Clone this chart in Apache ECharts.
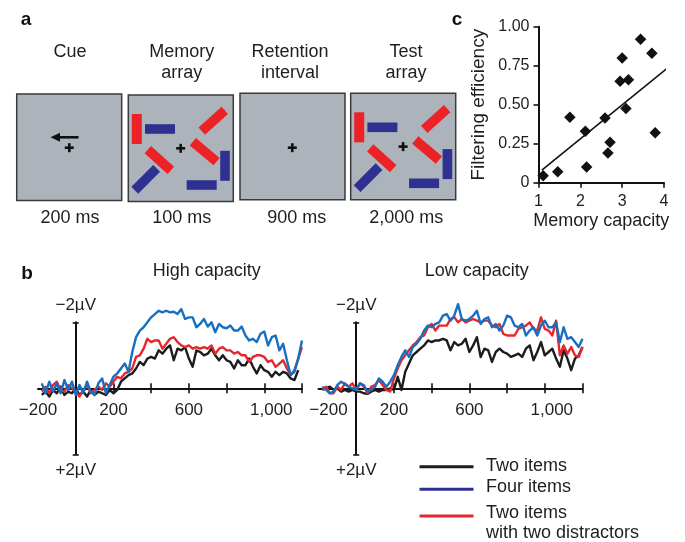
<!DOCTYPE html>
<html><head><meta charset="utf-8">
<script src="https://cdn.jsdelivr.net/npm/echarts@6/dist/echarts.min.js"></script>
<style>html,body{margin:0;padding:0;background:#fff}#c{width:685px;height:542px}</style>
</head><body><div id="c"></div>
<script>
// ---------- data ----------
const times = [-180,-160,-140,-120,-100,-80,-60,-40,-20,0,20,40,60,80,100,120,140,160,180,200,220,240,260,280,300,320,340,360,380,400,420,440,460,480,500,520,540,560,580,600,620,640,660,680,700,720,740,760,780,800,820,840,860,880,900,920,940,960,980,1000,1020,1040,1060,1080,1100,1120,1140,1160,1180,1200];

const highTwo = [0.2,0.1,0.25,0.05,0.15,-0.05,0.2,0.1,0.15,0.0, 0.2,0.1,0.25,0.05,0.2,0.1,0.15,0.2,0.05,0.15, 0.05,-0.2,-0.3,-0.4,-0.45,-0.6,-0.8,-0.7,-0.9,-0.95, -0.9,-1.15,-1.05,-1.2,-1.3,-0.85,-1.2,-1.15,-1.25,-0.9, -0.65,-1.15,-1.1,-1.0,-1.05,-1.2,-1.0,-0.85,-1.0,-0.85, -0.8,-0.6,-0.85,-0.7,-0.7,-0.9,-0.65,-0.45,-0.7,-0.55, -0.5,-0.35,-0.5,-0.4,-0.5,-0.45,-0.3,-0.25,-0.55];
const highFour = [-0.15,0.15,-0.2,0.1,-0.15,0.15,-0.25,0.05,-0.2,0.2, -0.1,0.15,-0.2,0.1,0.2,-0.15,-0.3,0.15,-0.1,-0.35, -0.45,-0.6,-0.75,-0.5,-1.1,-1.55,-1.75,-1.85,-2.0,-2.15, -2.25,-2.35,-2.3,-2.35,-2.3,-2.32,-2.25,-2.4,-2.1,-2.15, -2.15,-1.85,-1.95,-2.1,-1.87,-2.0,-1.7,-1.95,-1.85,-1.82, -1.9,-1.75,-1.75,-1.87,-1.6,-1.45,-1.5,-1.4,-1.65,-1.72, -1.3,-1.55,-1.6,-1.15,-1.35,-0.85,-0.4,-0.5,-0.9,-1.45];
const highDistr = [0.1,-0.05,0.15,-0.1,-0.2,0.05,0.1,-0.1,0.0,0.1, 0.25,0.05,-0.1,0.15,0.05,-0.05,0.05,-0.15,-0.05,-0.2, -0.35,-0.3,-0.45,-0.5,-0.6,-0.95,-1.0,-1.2,-1.5,-1.4, -1.45,-1.45,-1.2,-1.35,-1.5,-1.55,-1.4,-1.3,-1.25,-1.3, -1.2,-1.25,-1.2,-1.25,-1.2,-1.3,-1.05,-1.2,-1.25,-1.15, -1.15,-1.05,-1.1,-1.0,-1.0,-0.8,-0.95,-1.0,-1.0,-0.95, -0.8,-0.85,-0.65,-0.75,-0.85,-0.6,-0.4,-0.55,-0.9,-1.25];

const lowTwo = [0.05,0.0,-0.05,0.05,0.0,0.1,0.05,0.1,0.05,0.1, 0.1,0.15,0.17,0.1,0.05,0.1,0.05,0.05,0.0,0.05, -0.35,0.05,-0.5,-0.75,-1.0,-1.1,-1.2,-1.3,-1.45,-1.4, -1.45,-1.45,-1.5,-1.45,-1.15,-1.4,-1.3,-1.35,-1.5,-1.1, -1.3,-1.55,-0.95,-1.2,-1.15,-0.8,-1.1,-1.2,-1.1,-1.05, -0.95,-1.0,-1.05,-0.95,-1.2,-1.3,-0.85,-1.1,-1.4,-1.0, -1.1,-1.2,-0.9,-0.65,-1.15,-0.9,-0.55,-0.9,-1.0,-1.25];
const lowFour = [-0.05,0.05,0.15,0.1,-0.1,-0.2,-0.12,-0.05,0.0,0.05, -0.15,-0.1,0.1,0.05,-0.05,-0.3,-0.2,-0.05,-0.2,-0.4, -0.7,-0.95,-1.15,-0.95,-1.25,-1.35,-1.5,-1.75,-1.9,-1.85, -1.95,-2.0,-2.2,-2.25,-2.05,-2.2,-2.55,-2.1,-2.05,-2.1, -2.2,-2.35,-1.95,-2.1,-2.15,-1.85,-1.95,-1.75,-1.9,-2.2, -2.15,-1.9,-1.85,-1.95,-1.6,-1.75,-1.85,-1.6,-1.9,-2.05, -1.85,-1.85,-2.0,-1.4,-1.85,-1.5,-1.55,-1.4,-1.25,-1.5];
const lowDistr = [0.05,-0.05,0.15,0.15,-0.05,0.05,-0.15,-0.05,-0.15,0.05, -0.15,-0.05,0.15,-0.05,-0.1,-0.25,-0.1,0.05,0.1,-0.3, -0.6,-0.85,-1.0,-1.15,-1.3,-1.4,-1.55,-1.6,-1.85,-1.95, -1.75,-1.9,-1.9,-1.9,-2.1,-2.15,-2.0,-2.1,-2.0,-2.05, -2.1,-2.05,-2.0,-2.05,-2.05,-1.9,-1.85,-1.95,-1.65,-1.6, -1.6,-1.6,-1.8,-1.85,-1.9,-2.0,-1.8,-1.75,-2.15,-1.8, -1.75,-1.6,-2.05,-1.0,-1.3,-1.05,-1.25,-1.0,-0.95,-1.25];

const erpTickLabels = [-200, 200, 600, 1000];
const erpTicks = [200, 400, 600, 800, 1000, 1200];

const capacity   = [1.11,1.46,1.75,2.12,2.15,2.59,2.71,2.66,2.95,3.0,3.15,3.09,3.44,3.71,3.79];
const efficiency = [0.045,0.07,0.42,0.33,0.10,0.415,0.26,0.19,0.65,0.80,0.66,0.475,0.92,0.83,0.32];
const fitLine = [[1.08, 0.08], [4.43, 0.81]];

const stageTop    = ['Cue', 'Memory', 'Retention', 'Test'];
const stageBottom = ['', 'array', 'interval', 'array'];
const durations   = ['200 ms', '100 ms', '900 ms', '2,000 ms'];
const legendNames = ['Two items', 'Four items', 'Two items\nwith two distractors'];

// ---------- style ----------
const FONT = '"Liberation Sans", Arial, Helvetica, sans-serif';
const TXT = '#1e1e1e';
const C_BLACK = '#1c1c1c', C_BLUE = '#176fc1', C_RED = '#e4282e';
const C_BLUE_LEG = '#2e3192';
const BAR_RED = '#ec2227', BAR_BLUE = '#2e3192';
const BOX_FILL = '#adb3ba', BOX_STROKE = '#3a3a3a';
const AX = '#111';

function zip(xs, ys) { return ys.map((v, i) => [xs[i], v]); }

// ---------- panel a graphics ----------
const g = [];
function text(t, x, y, size, opts) {
  g.push({ type: 'text', x: x, y: y, silent: true,
    style: Object.assign({ text: t, font: size + 'px ' + FONT, fill: TXT, textAlign: 'center', textVerticalAlign: 'middle' }, opts || {}) });
}
const boxes = [[16.7, 94], [128.3, 95], [240, 93.3], [350.7, 93.3]];
const boxW = 105, boxH = 106.5;
const stageX = [70, 181.7, 290, 406];
const durX = [70, 181.7, 296.7, 406.3];
boxes.forEach((b, i) => {
  g.push({ type: 'rect', shape: { x: b[0], y: b[1], width: boxW, height: boxH },
    style: { fill: BOX_FILL, stroke: BOX_STROKE, lineWidth: 1.5 } });
  text(stageTop[i], stageX[i], 52, 18);
  if (stageBottom[i]) text(stageBottom[i], stageX[i], 73, 18);
  text(durations[i], durX[i], 218.5, 18);
});
function plus(cx, cy) {
  g.push({ type: 'line', shape: { x1: cx - 4.5, y1: cy, x2: cx + 4.5, y2: cy }, style: { stroke: '#111', lineWidth: 2.6 } });
  g.push({ type: 'line', shape: { x1: cx, y1: cy - 4.5, x2: cx, y2: cy + 4.5 }, style: { stroke: '#111', lineWidth: 2.6 } });
}
plus(69.3, 147.7);
g.push({ type: 'line', shape: { x1: 57, y1: 137.3, x2: 78.5, y2: 137.3 }, style: { stroke: '#111', lineWidth: 2.6 } });
g.push({ type: 'polygon', shape: { points: [[50.5, 137.3], [60, 132.8], [60, 141.8]] }, style: { fill: '#111' } });
plus(292.3, 147.7);
const arrayItems = [
  [8.5, 34, 10, 30, 0, BAR_RED],
  [31.7, 34, 30, 9.6, 0, BAR_BLUE],
  [85, 25.7, 31, 9.6, 42, BAR_RED],
  [76.4, 56.7, 31, 9.6, -40, BAR_RED],
  [31, 65, 31, 9.6, -42, BAR_RED],
  [17.4, 84.3, 31, 9.6, 45, BAR_BLUE],
  [96.7, 70.8, 9.6, 30, 0, BAR_BLUE],
  [73.4, 90, 30, 9.6, 0, BAR_BLUE]
];
[1, 3].forEach(bi => {
  const o = boxes[bi];
  arrayItems.forEach(it => {
    g.push({ type: 'rect', x: o[0] + it[0], y: o[1] + it[1], rotation: it[4] * Math.PI / 180,
      shape: { x: -it[2] / 2, y: -it[3] / 2, width: it[2], height: it[3] }, style: { fill: it[5] } });
  });
  plus(o[0] + 52.4, o[1] + 53.3);
});
text('a', 26, 19.5, 19, { font: 'bold 19px ' + FONT, fill: '#111' });
text('c', 457, 19.5, 19, { font: 'bold 19px ' + FONT, fill: '#111' });
text('b', 27, 273.5, 19, { font: 'bold 19px ' + FONT, fill: '#111' });
text('High capacity', 206.7, 271, 18);
text('Low capacity', 476.7, 271, 18);
const legColors = [C_BLACK, C_BLUE_LEG, C_RED];
const legY = [466.7, 489.3, 516];
const legTextY = [466.4, 487.2, 512.7];
legendNames.forEach((n, i) => {
  g.push({ type: 'line', shape: { x1: 419.5, y1: legY[i], x2: 473.5, y2: legY[i] }, style: { stroke: legColors[i], lineWidth: 3 } });
  n.split('\n').forEach((p, j) => text(p, 486, legTextY[i] + j * 20.5, 18, { textAlign: 'left' }));
});

// ---------- axes ----------
// upper grid: y from -2 (top) to 0 (x axis); lower grid: y from 0 to +2
function erpX(grid, shift) {
  return { type: 'value', gridIndex: grid, position: 'bottom', min: -200, max: 1200, interval: 200,
    axisLine: { onZero: false, lineStyle: { color: AX, width: 2 } },
    axisTick: { show: true, customValues: erpTicks, length: 5, lineStyle: { color: AX, width: 1.6 } },
    axisLabel: { customValues: erpTickLabels, margin: 14, fontSize: 17, fontFamily: FONT, color: TXT,
      formatter: v => v < 0 ? '{m|\u2212' + Math.abs(v) + '}' : (v >= 1000 ? '{k|1,000}' : String(v)),
      rich: { m: { fontSize: 17, fontFamily: FONT, color: TXT, padding: [0, 0, 0, shift] },
              k: { fontSize: 17, fontFamily: FONT, color: TXT, padding: [0, 0, 0, 14] } } },
    splitLine: { show: false } };
}
function erpXInner(grid) {
  return { type: 'value', gridIndex: grid, position: 'bottom', min: -200, max: 1200, interval: 200,
    axisLine: { show: false, onZero: false },
    axisTick: { show: true, inside: true, customValues: erpTicks, length: 5, lineStyle: { color: AX, width: 1.6 } },
    axisLabel: { show: false }, splitLine: { show: false } };
}
function erpXHidden(grid) {
  return { type: 'value', gridIndex: grid, show: false, min: -200, max: 1200, interval: 200 };
}
function erpY(grid, xIdx, lo, hi, tickV, inner, name, loc) {
  const a = { type: 'value', gridIndex: grid, position: 'left', inverse: true, min: lo, max: hi, interval: 2,
    axisLine: { show: !inner, onZero: true, onZeroAxisIndex: xIdx, lineStyle: { color: AX, width: 2 } },
    axisTick: { show: true, inside: inner, customValues: [tickV], length: 3, lineStyle: { color: AX, width: 1.6 } },
    axisLabel: { show: false }, splitLine: { show: false } };
  if (name) {
    a.name = name; a.nameLocation = loc; a.nameGap = 8;
    a.nameTextStyle = { fontSize: 17, fontFamily: FONT, color: TXT };
  }
  return a;
}
function erpLine(name, xs, ys, color, xi, yi) {
  return { type: 'line', name: name, xAxisIndex: xi, yAxisIndex: yi, data: zip(xs, ys), symbol: 'none',
    showSymbol: false, clip: false, lineStyle: { color: color, width: 2.4, join: 'round' }, z: 3 };
}

const option = {
  animation: false,
  backgroundColor: '#fff',
  textStyle: { fontFamily: FONT },
  grid: [
    { left: 38, top: 322.3, width: 264, height: 66 },      // 0 high upper
    { left: 38, top: 388.3, width: 264, height: 66 },      // 1 high lower
    { left: 318.5, top: 322.3, width: 264, height: 66 },   // 2 low upper
    { left: 318.5, top: 388.3, width: 264, height: 66 },   // 3 low lower
    { left: 538.5, top: 26.7, width: 125.5, height: 156 }  // 4 scatter
  ],
  xAxis: [
    erpX(0, 0), erpXInner(0), erpXHidden(1),
    erpX(2, 20), erpXInner(2), erpXHidden(3),
    { type: 'value', gridIndex: 4, min: 1, max: 4, interval: 1,
      axisLine: { onZero: false, lineStyle: { color: AX, width: 2 } },
      axisTick: { length: 5, lineStyle: { color: AX, width: 1.6 } },
      axisLabel: { margin: 10.5, fontSize: 16, fontFamily: FONT, color: TXT },
      splitLine: { show: false },
      name: 'Memory capacity', nameLocation: 'middle', nameGap: 29,
      nameTextStyle: { fontSize: 18, fontFamily: FONT, color: TXT } }
  ],
  yAxis: [
    erpY(0, 0, -2, 0, -2, false, '\u22122\u00b5V', 'start'),
    erpY(0, 0, -2, 0, -2, true),
    erpY(1, 2, 0, 2, 2, false, '+2\u00b5V', 'end'),
    erpY(1, 2, 0, 2, 2, true),
    erpY(2, 3, -2, 0, -2, false, '\u22122\u00b5V', 'start'),
    erpY(2, 3, -2, 0, -2, true),
    erpY(3, 5, 0, 2, 2, false, '+2\u00b5V', 'end'),
    erpY(3, 5, 0, 2, 2, true),
    { type: 'value', gridIndex: 4, min: 0, max: 1, interval: 0.25,
      axisLine: { onZero: false, lineStyle: { color: AX, width: 2 } },
      axisTick: { length: 5, lineStyle: { color: AX, width: 1.6 } },
      axisLabel: { margin: 9, fontSize: 16, fontFamily: FONT, color: TXT, formatter: v => v === 0 ? '0' : v.toFixed(2) },
      splitLine: { show: false },
      name: 'Filtering efficiency', nameLocation: 'middle', nameGap: 50, nameRotate: 90,
      nameTextStyle: { fontSize: 19, fontFamily: FONT, color: TXT } }
  ],
  series: [
    erpLine('Two items', times, highTwo, C_BLACK, 0, 0),
    erpLine('Two items with two distractors', times, highDistr, C_RED, 0, 0),
    erpLine('Four items', times, highFour, C_BLUE, 0, 0),
    erpLine('Two items', times, lowTwo, C_BLACK, 3, 4),
    erpLine('Two items with two distractors', times, lowDistr, C_RED, 3, 4),
    erpLine('Four items', times, lowFour, C_BLUE, 3, 4),
    { type: 'line', xAxisIndex: 6, yAxisIndex: 8, data: fitLine, symbol: 'none', clip: false,
      lineStyle: { color: AX, width: 1.6 }, z: 2 },
    { type: 'scatter', xAxisIndex: 6, yAxisIndex: 8, data: zip(capacity, efficiency), symbol: 'diamond',
      symbolSize: 11.5, itemStyle: { color: '#111', opacity: 1 }, clip: false, z: 4 }
  ],
  graphic: g
};
const chart = echarts.init(document.getElementById('c'), null, { renderer: 'canvas' });
chart.setOption(option);
</script>
</body></html>
